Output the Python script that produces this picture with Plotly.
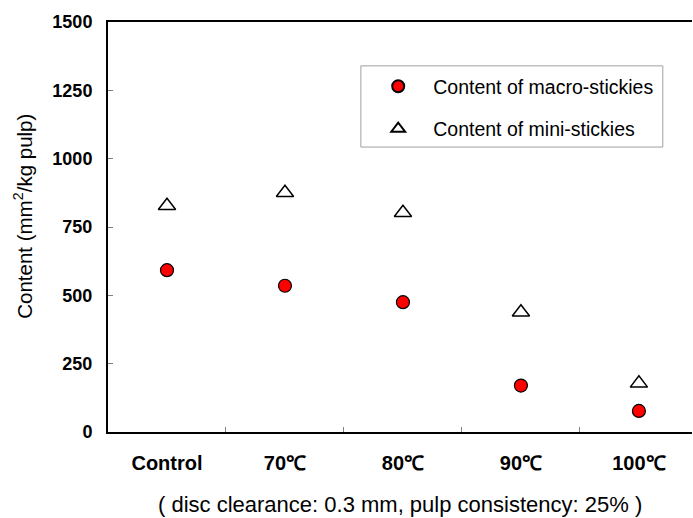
import plotly.graph_objects as go

categories = ["Control", "70℃", "80℃", "90℃", "100℃"]
macro = [592, 535, 475, 170, 77]
mini = [828, 875, 802, 438, 178]
yticks = [0, 250, 500, 750, 1000, 1250, 1500]

FONT = "Liberation Sans, Arial, sans-serif"

fig = go.Figure()
fig.add_trace(go.Scatter(
    x=categories, y=macro, mode="markers", name="Content of macro-stickies",
    legendgroup="a",
    marker=dict(symbol="circle", size=13, color="#ff0000", line=dict(color="black", width=1.2)),
))
fig.add_trace(go.Scatter(
    x=categories, y=mini, mode="markers", name="Content of mini-stickies",
    legendgroup="b",
    marker=dict(symbol="triangle-up-open", size=15, color="black", line=dict(color="black", width=1.5)),
))

fig.update_layout(
    width=693, height=518,
    margin=dict(l=108, r=1, t=22, b=86),
    plot_bgcolor="white", paper_bgcolor="white",
    font=dict(family=FONT, color="black"),
    showlegend=True,
    legend=dict(
        x=0.437, y=0.890, xanchor="left", yanchor="top",
        borderwidth=0, bgcolor="rgba(0,0,0,0)",
        font=dict(size=19.5), itemsizing="constant", itemwidth=60,
        tracegroupgap=14,
    ),
    shapes=[dict(
        type="rect", xref="paper", yref="paper",
        x0=0.433, x1=0.950, y0=0.695, y1=0.893,
        line=dict(color="#a0a0a0", width=1), fillcolor="rgba(0,0,0,0)", layer="below",
    )],
    annotations=[
        dict(
            text="( disc clearance: 0.3 mm, pulp consistency: 25% )",
            x=0.5, y=-0.178, xref="paper", yref="paper", xanchor="center", yanchor="middle",
            showarrow=False, font=dict(size=22),
        ),
        dict(
            text="Content (mm<sup>2</sup>/kg pulp)", textangle=-90,
            x=-0.1455, y=0.525, xref="paper", yref="paper", xanchor="center", yanchor="middle",
            showarrow=False, font=dict(size=20.5),
        ),
    ],
)
fig.update_xaxes(
    type="category", range=[-0.5, 4.45], tickson="boundaries",
    ticks="inside", ticklen=5, tickcolor="#808080",
    showline=True, linecolor="black", linewidth=2, mirror=True,
    showgrid=False, tickfont=dict(size=20, family=FONT),
    ticklabelstandoff=12,
    tickprefix="<b>", ticksuffix="</b>",
)
fig.update_yaxes(
    range=[0, 1500], tickvals=yticks, ticktext=[f"<b>{v}</b>" for v in yticks],
    ticks="inside", ticklen=5, tickcolor="#808080",
    showline=True, linecolor="black", linewidth=2,
    showgrid=False, zeroline=False, tickfont=dict(size=18),
    ticklabelstandoff=10,
)
fig.write_html("out.html")
